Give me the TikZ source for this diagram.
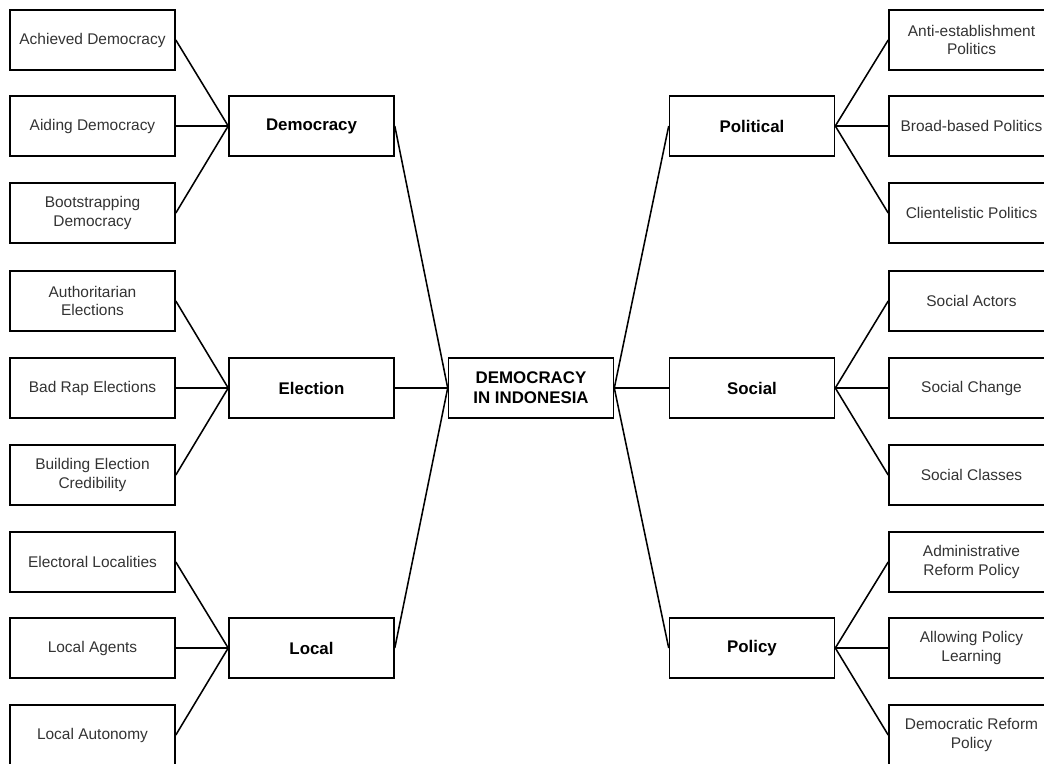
\documentclass[tikz,border=0pt]{standalone}
\usepackage{fontspec}
\setmainfont{Liberation Sans}
\usepackage{tikz}

\begin{document}
\begin{tikzpicture}[x=0.025cm, y=-0.025cm,
    leaf/.style={draw, line width=1.1pt, minimum width=4.125cm, minimum height=1.5cm,
      align=center, inner sep=2pt, font=\fontsize{11}{13}\selectfont, text=black!80},
    topic/.style={leaf, font=\fontsize{12}{14.2}\selectfont\bfseries, text=black},
    link/.style={line width=1.1pt}]
      \def\xa{92.5}
      \def\xb{311.5}
      \def\xc{531}
      \def\xd{752}
      \def\xe{971.5}
      \useasboundingbox (0,0) rectangle (1044,763);
      \clip (0,0) rectangle (1044,763);

      \node[topic] (root) at (\xc,388) {DEMOCRACY\\IN INDONESIA};

      % left side
      \node[topic] (democracy) at (\xb,126) {Democracy};
      \node[topic] (election) at (\xb,388) {Election};
      \node[topic] (local) at (\xb,648) {Local};

      \node[leaf] (achieved) at (\xa,40) {Achieved Democracy};
      \node[leaf] (aiding) at (\xa,126) {Aiding Democracy};
      \node[leaf] (bootstrap) at (\xa,213) {Bootstrapping\\Democracy};
      \node[leaf] (authoritarian) at (\xa,301) {Authoritarian\\Elections};
      \node[leaf] (badrap) at (\xa,388) {Bad Rap Elections};
      \node[leaf] (credibility) at (\xa,475) {Building Election\\Credibility};
      \node[leaf] (localities) at (\xa,562) {Electoral Localities};
      \node[leaf] (agents) at (\xa,648) {Local Agents};
      \node[leaf] (autonomy) at (\xa,735) {Local Autonomy};

      % right side
      \node[topic] (political) at (\xd,126) {Political};
      \node[topic] (social) at (\xd,388) {Social};
      \node[topic] (policy) at (\xd,648) {Policy};

      \node[leaf] (antiest) at (\xe,40) {Anti-establishment\\Politics};
      \node[leaf] (broad) at (\xe,126) {Broad-based Politics};
      \node[leaf] (clientel) at (\xe,213) {Clientelistic Politics};
      \node[leaf] (actors) at (\xe,301) {Social Actors};
      \node[leaf] (change) at (\xe,388) {Social Change};
      \node[leaf] (classes) at (\xe,475) {Social Classes};
      \node[leaf] (admin) at (\xe,562) {Administrative\\Reform Policy};
      \node[leaf] (learning) at (\xe,648) {Allowing Policy\\Learning};
      \node[leaf] (reform) at (\xe,735) {Democratic Reform\\Policy};

      \foreach \n in {democracy,election,local}
        \draw[link] (\n.east) -- (root.west);
      \foreach \n in {political,social,policy}
        \draw[link] (root.east) -- (\n.west);

      \foreach \n in {achieved,aiding,bootstrap}
        \draw[link] (\n.east) -- (democracy.west);
      \foreach \n in {authoritarian,badrap,credibility}
        \draw[link] (\n.east) -- (election.west);
      \foreach \n in {localities,agents,autonomy}
        \draw[link] (\n.east) -- (local.west);

      \foreach \n in {antiest,broad,clientel}
        \draw[link] (political.east) -- (\n.west);
      \foreach \n in {actors,change,classes}
        \draw[link] (social.east) -- (\n.west);
      \foreach \n in {admin,learning,reform}
        \draw[link] (policy.east) -- (\n.west);
    \end{tikzpicture}
\end{document}
